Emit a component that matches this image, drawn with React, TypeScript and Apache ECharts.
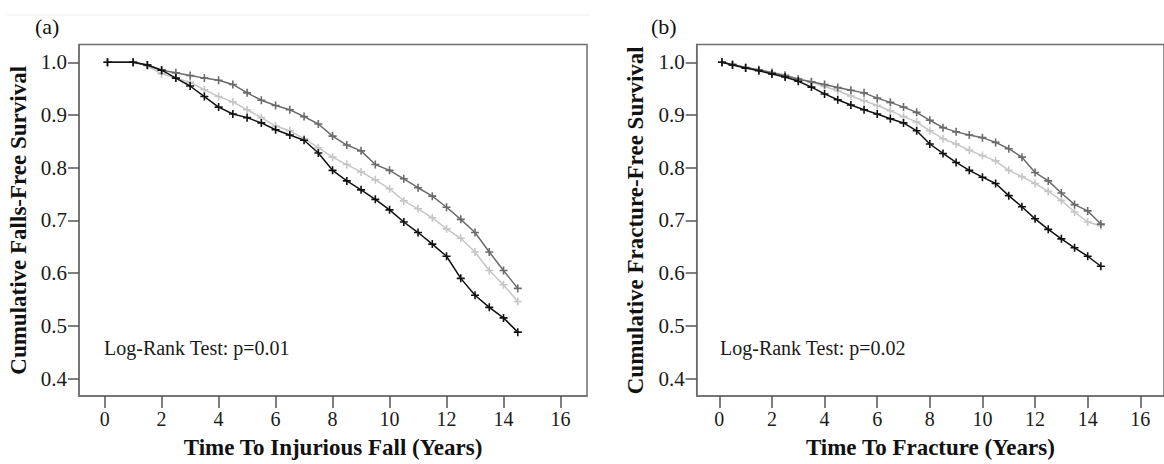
import React, { useEffect, useRef } from "react";
import * as echarts from "echarts";

const xTicks = [0, 2, 4, 6, 8, 10, 12, 14, 16];
const yTicks = [0.4, 0.5, 0.6, 0.7, 0.8, 0.9, 1.0];

const timesA = [0.1, 1.0, 1.5, 2.0, 2.5, 3.0, 3.5, 4.0, 4.5, 5.0, 5.5, 6.0, 6.5, 7.0, 7.5, 8.0, 8.5, 9.0, 9.5, 10.0, 10.5, 11.0, 11.5, 12.0, 12.5, 13.0, 13.5, 14.0, 14.5];
const blackA = [1.0, 1.0, 0.995, 0.985, 0.97, 0.955, 0.935, 0.915, 0.902, 0.895, 0.885, 0.872, 0.862, 0.852, 0.828, 0.795, 0.775, 0.758, 0.74, 0.72, 0.697, 0.677, 0.655, 0.632, 0.59, 0.558, 0.535, 0.515, 0.488];
const darkA = [1.0, 1.0, 0.995, 0.985, 0.98, 0.975, 0.97, 0.966, 0.958, 0.942, 0.928, 0.918, 0.91, 0.897, 0.883, 0.86, 0.843, 0.832, 0.806, 0.795, 0.779, 0.762, 0.746, 0.725, 0.702, 0.677, 0.64, 0.605, 0.571];
const lightA = [1.0, 1.0, 0.993, 0.978, 0.97, 0.962, 0.948, 0.935, 0.925, 0.91, 0.895, 0.879, 0.87, 0.855, 0.838, 0.82, 0.806, 0.792, 0.777, 0.76, 0.737, 0.722, 0.705, 0.684, 0.666, 0.64, 0.605, 0.578, 0.546];

const timesB = [0.1, 0.5, 1.0, 1.5, 2.0, 2.5, 3.0, 3.5, 4.0, 4.5, 5.0, 5.5, 6.0, 6.5, 7.0, 7.5, 8.0, 8.5, 9.0, 9.5, 10.0, 10.5, 11.0, 11.5, 12.0, 12.5, 13.0, 13.5, 14.0, 14.5];
const blackB = [1.0, 0.995, 0.989, 0.984, 0.978, 0.972, 0.964, 0.953, 0.94, 0.929, 0.919, 0.91, 0.902, 0.893, 0.885, 0.87, 0.845, 0.827, 0.81, 0.795, 0.782, 0.77, 0.747, 0.726, 0.703, 0.683, 0.665, 0.648, 0.632, 0.613];
const darkB = [1.0, 0.996, 0.99, 0.986, 0.98, 0.975, 0.968, 0.963, 0.958, 0.952, 0.947, 0.942, 0.932, 0.924, 0.915, 0.905, 0.89, 0.876, 0.868, 0.862, 0.857, 0.848, 0.836, 0.82, 0.791, 0.775, 0.752, 0.73, 0.718, 0.693];
const lightB = [1.0, 0.996, 0.99, 0.986, 0.981, 0.976, 0.969, 0.962, 0.954, 0.946, 0.936, 0.927, 0.918, 0.908, 0.897, 0.887, 0.87, 0.855, 0.845, 0.833, 0.823, 0.813, 0.795, 0.783, 0.77, 0.755, 0.738, 0.716, 0.697, 0.69];

const panelLabels = ["(a)", "(b)"];
const testLabels = ["Log-Rank Test: p=0.01", "Log-Rank Test: p=0.02"];
const xNames = ["Time To Injurious Fall (Years)", "Time To Fracture (Years)"];
const yNames = ["Cumulative Falls-Free Survival", "Cumulative Fracture-Free Survival"];

const FONT = "Liberation Serif, Times New Roman, serif";
const AXIS_COLOR = "#6e6e6e";
const CROSS = "path://M-1,-5H1V-1H5V1H1V5H-1V1H-5V-1H-1Z";

function pairs(t: number[], s: number[]) {
  return t.map((v, i) => [v, s[i]]);
}

function makeX(gridIndex: number, min: number, max: number, name: string) {
  return {
    type: "value",
    gridIndex,
    min,
    max,
    name,
    nameLocation: "middle",
    nameGap: 40,
    nameTextStyle: { fontFamily: FONT, fontSize: 23, fontWeight: "bold", color: "#111" },
    axisLine: { show: true, onZero: false, lineStyle: { color: AXIS_COLOR, width: 1.5 } },
    axisTick: { show: true, customValues: xTicks, length: 12, lineStyle: { color: "#555", width: 1.5 } },
    axisLabel: { customValues: xTicks, margin: 13, fontFamily: FONT, fontSize: 20, color: "#1a1a1a" },
    splitLine: { show: false },
  };
}

function makeY(gridIndex: number, name: string, gap: number) {
  return {
    type: "value",
    gridIndex,
    min: 0.3668,
    max: 1.0336,
    name,
    nameLocation: "middle",
    nameGap: gap,
    nameTextStyle: { fontFamily: FONT, fontSize: 23, fontWeight: "bold", color: "#111" },
    axisLine: { show: true, onZero: false, lineStyle: { color: AXIS_COLOR, width: 1.5 } },
    axisTick: { show: true, customValues: yTicks, length: 11, lineStyle: { color: "#555", width: 1.5 } },
    axisLabel: {
      customValues: yTicks,
      margin: 12,
      fontFamily: FONT,
      fontSize: 21,
      color: "#1a1a1a",
      formatter: (v: number) => v.toFixed(1),
    },
    splitLine: { show: false },
  };
}

function curve(xi: number, data: number[][], color: string, z: number) {
  return {
    type: "line",
    xAxisIndex: xi,
    yAxisIndex: xi,
    data,
    symbol: CROSS,
    symbolSize: 8,
    showSymbol: true,
    z,
    lineStyle: { color, width: 1.5 },
    itemStyle: { color },
    emphasis: { disabled: true },
  };
}

export default function App() {
  const ref = useRef<HTMLDivElement>(null);
  useEffect(() => {
    document.body.style.margin = "0";
    const chart = echarts.init(ref.current!, null, { renderer: "svg" });
    const option = {
      animation: false,
      backgroundColor: "#ffffff",
      textStyle: { fontFamily: FONT },
      grid: [
        { left: 79, top: 44.6, right: 577, bottom: 66, show: true, borderColor: AXIS_COLOR, borderWidth: 1.5 },
        { left: 696.7, top: 44.6, right: -15, bottom: 66, show: true, borderColor: AXIS_COLOR, borderWidth: 1.5 },
      ],
      xAxis: [makeX(0, -0.9, 16.93, xNames[0]), makeX(1, -0.86, 16.9, xNames[1])],
      yAxis: [makeY(0, yNames[0], 49), makeY(1, yNames[1], 50)],
      series: [
        curve(0, pairs(timesA, lightA), "#c6c6c6", 2),
        curve(0, pairs(timesA, darkA), "#6b6b6b", 3),
        curve(0, pairs(timesA, blackA), "#111111", 4),
        curve(1, pairs(timesB, lightB), "#c6c6c6", 2),
        curve(1, pairs(timesB, darkB), "#6b6b6b", 3),
        curve(1, pairs(timesB, blackB), "#111111", 4),
      ],
      graphic: [
        { type: "line", shape: { x1: 7, y1: 15, x2: 590, y2: 15 }, style: { stroke: "#efefef", lineWidth: 1 } },
        { type: "text", x: 35, y: 26, style: { text: panelLabels[0], fontFamily: FONT, fontSize: 22, fill: "#111", textVerticalAlign: "middle" } },
        { type: "text", x: 651, y: 26, style: { text: panelLabels[1], fontFamily: FONT, fontSize: 22, fill: "#111", textVerticalAlign: "middle" } },
        { type: "text", x: 104, y: 348, style: { text: testLabels[0], fontFamily: FONT, fontSize: 20, fill: "#1a1a1a", textVerticalAlign: "middle" } },
        { type: "text", x: 720, y: 348, style: { text: testLabels[1], fontFamily: FONT, fontSize: 20, fill: "#1a1a1a", textVerticalAlign: "middle" } },
      ],
    };
    chart.setOption(option as any);
    return () => chart.dispose();
  }, []);
  return <div ref={ref} style={{ width: 1164, height: 464 }} />;
}
